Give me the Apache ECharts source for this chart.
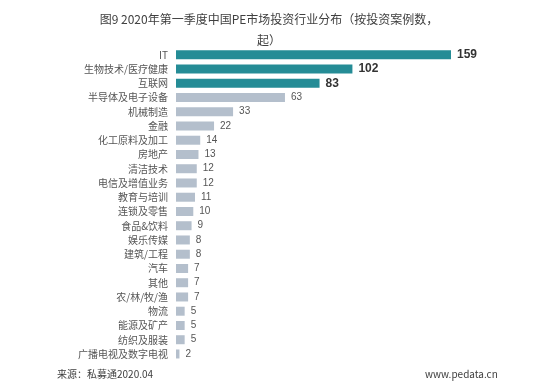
<!DOCTYPE html>
<html><head><meta charset="utf-8">
<script src="https://cdn.jsdelivr.net/npm/echarts@6/dist/echarts.min.js"></script>
<style>html,body{margin:0;padding:0;background:#fff}#c{width:554px;height:388px}</style>
</head><body><div id="c"></div>
<script>
var categories = ["IT","生物技术/医疗健康","互联网","半导体及电子设备","机械制造","金融","化工原料及加工","房地产","清洁技术","电信及增值业务","教育与培训","连锁及零售","食品&饮料","娱乐传媒","建筑/工程","汽车","其他","农/林/牧/渔","物流","能源及矿产","纺织及服装","广播电视及数字电视"];
var values = [159,102,83,63,33,22,14,13,12,12,11,10,9,8,8,7,7,7,5,5,5,2];
var highlightCount = 3;

var chart = echarts.init(document.getElementById('c'));
var font = '"Noto Sans CJK SC", "Noto Sans", sans-serif';
var numFont = '"Liberation Sans", "Noto Sans CJK SC", sans-serif';
var data = values.map(function(v,i){
  var hi = i < highlightCount;
  return {
    value: v,
    itemStyle: {color: hi ? '#258c96' : '#b4bfcc'},
    label: hi ? {fontSize: 12, fontWeight: 'bold', color: '#333333'} : {fontSize: 10, color: '#555555'}
  };
});
var titleStyle = {fontFamily: font, fontSize: 12, fontWeight: 'normal', color: '#404040'};
chart.setOption({
  animation: false,
  title: [{
    text: '图9 2020年第一季度中国PE市场投资行业分布（按投资案例数，',
    left: 264, top: 8, textAlign: 'center', textStyle: titleStyle
  },{
    text: '起）',
    left: 264, top: 29, textAlign: 'center', textStyle: titleStyle
  },{
    text: '来源：私募通2020.04', left: 52, top: 364,
    textStyle: {fontFamily: font, fontSize: 10, fontWeight: 'normal', color: '#404040'}
  },{
    text: 'www.pedata.cn', left: 420, top: 364,
    textStyle: {fontFamily: font, fontSize: 10, fontWeight: 'normal', color: '#404040'}
  }],
  grid: {left: 176, right: 103, top: 47.6, bottom: 26.9, containLabel: false},
  xAxis: {type: 'value', min: 0, max: 159, show: false},
  yAxis: {
    type: 'category', data: categories, inverse: true,
    axisLine: {show: false}, axisTick: {show: false},
    axisLabel: {fontFamily: font, fontSize: 10, color: '#555555', margin: 8}
  },
  series: [{
    type: 'bar', data: data, barWidth: 9,
    label: {show: true, position: 'right', distance: 6, fontFamily: numFont}
  }]
});
</script></body></html>
